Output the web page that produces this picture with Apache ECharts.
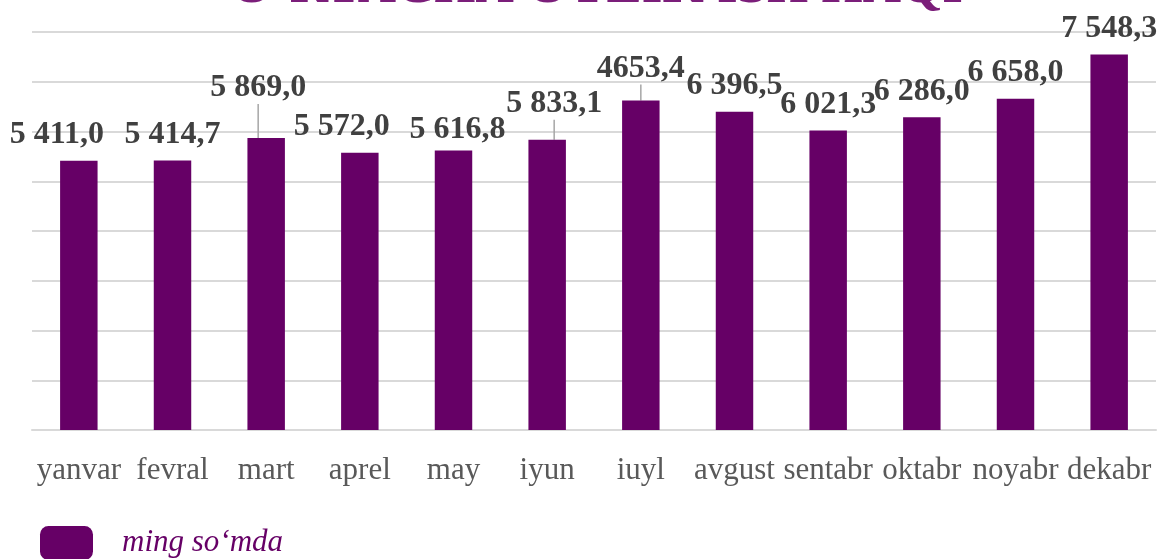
<!DOCTYPE html>
<html>
<head>
<meta charset="utf-8">
<script src="https://cdn.jsdelivr.net/npm/echarts@6/dist/echarts.min.js"></script>
<style>
  html, body { margin: 0; padding: 0; background: #fff; }
  #chart { width: 1159px; height: 559px; }
</style>
</head>
<body>
<div id="chart"></div>
<script>
// oylar
const months = ["yanvar", "fevral", "mart", "aprel", "may", "iyun", "iuyl", "avgust", "sentabr", "oktabr", "noyabr", "dekabr"];
// ustunlar balandligi (rasmdan o'qilgan)
const values = [5411.0, 5414.7, 5869.0, 5572.0, 5616.8, 5833.1, 6625.0, 6396.5, 6021.3, 6286.0, 6658.0, 7548.3];
// yorliq matnlari (asl rasmdagidek)
const valueLabels = ["5 411,0", "5 414,7", "5 869,0", "5 572,0", "5 616,8", "5 833,1", "4653,4", "6 396,5", "6 021,3", "6 286,0", "6 658,0", "7 548,3"];
const seriesName = "ming so‘mda";
const titleText = "O‘RTACHA OYLIK ISH HAQI";

// yorliqlarni surish (Excel'da qo'lda surilgan)
const labelShift = [[-22, 0], [0, 0], [-8, -24], [-18, 0], [4, 5], [7, -10], [0, -6], [0, 0], [0, 0], [0, 0], [0, 0], [0, 0]];
// chiziq bilan bog'langan yorliqlar
const withLeader = [2, 5, 6];

const serif = "'Liberation Serif', 'Times New Roman', serif";

let chart = echarts.init(document.getElementById("chart"));
chart.setOption({
  animation: false,
  title: {
    text: titleText,
    left: 226,
    top: -43,
    textStyle: {
      fontFamily: serif,
      fontSize: 53,
      fontWeight: "bold",
      color: "#7b1e7a",
    },
  },
  legend: {
    left: 40,
    top: 526,
    padding: 0,
    icon: "roundRect",
    itemWidth: 53,
    itemHeight: 34,
    textStyle: {
      fontFamily: serif,
      fontSize: 31,
      fontStyle: "italic",
      color: "#660066",
      padding: [5, 0, 0, 24],
    },
    data: [seriesName],
  },
  grid: {
    left: 32,
    right: 3,
    top: 32,
    bottom: 129,
  },
  xAxis: {
    type: "category",
    data: months,
    axisLine: { lineStyle: { color: "#d9d9d9", width: 2 } },
    axisTick: { show: false },
    axisLabel: {
      interval: 0,
      fontFamily: serif,
      fontSize: 31,
      color: "#595959",
      margin: 25,
    },
  },
  yAxis: {
    type: "value",
    min: 0,
    max: 8000,
    interval: 1000,
    axisLabel: { show: false },
    axisLine: { show: false },
    axisTick: { show: false },
    splitLine: { lineStyle: { color: "#d9d9d9", width: 2 } },
  },
  series: [
    {
      name: seriesName,
      type: "bar",
      data: values.map((v, i) => ({
        value: v,
        labelLine: { show: withLeader.includes(i) },
      })),
      barWidth: "40%",
      itemStyle: { color: "#660066" },
      label: {
        show: true,
        position: "top",
        distance: 10,
        fontFamily: serif,
        fontSize: 32,
        fontWeight: "bold",
        color: "#404040",
        formatter: (p) => valueLabels[p.dataIndex],
      },
      labelLine: {
        show: false,
        lineStyle: { color: "#a6a6a6", width: 1.5 },
      },
      labelLayout: (p) => {
        let s = labelShift[p.dataIndex];
        return { dx: s[0], dy: s[1] };
      },
    },
  ],
});
</script>
</body>
</html>
